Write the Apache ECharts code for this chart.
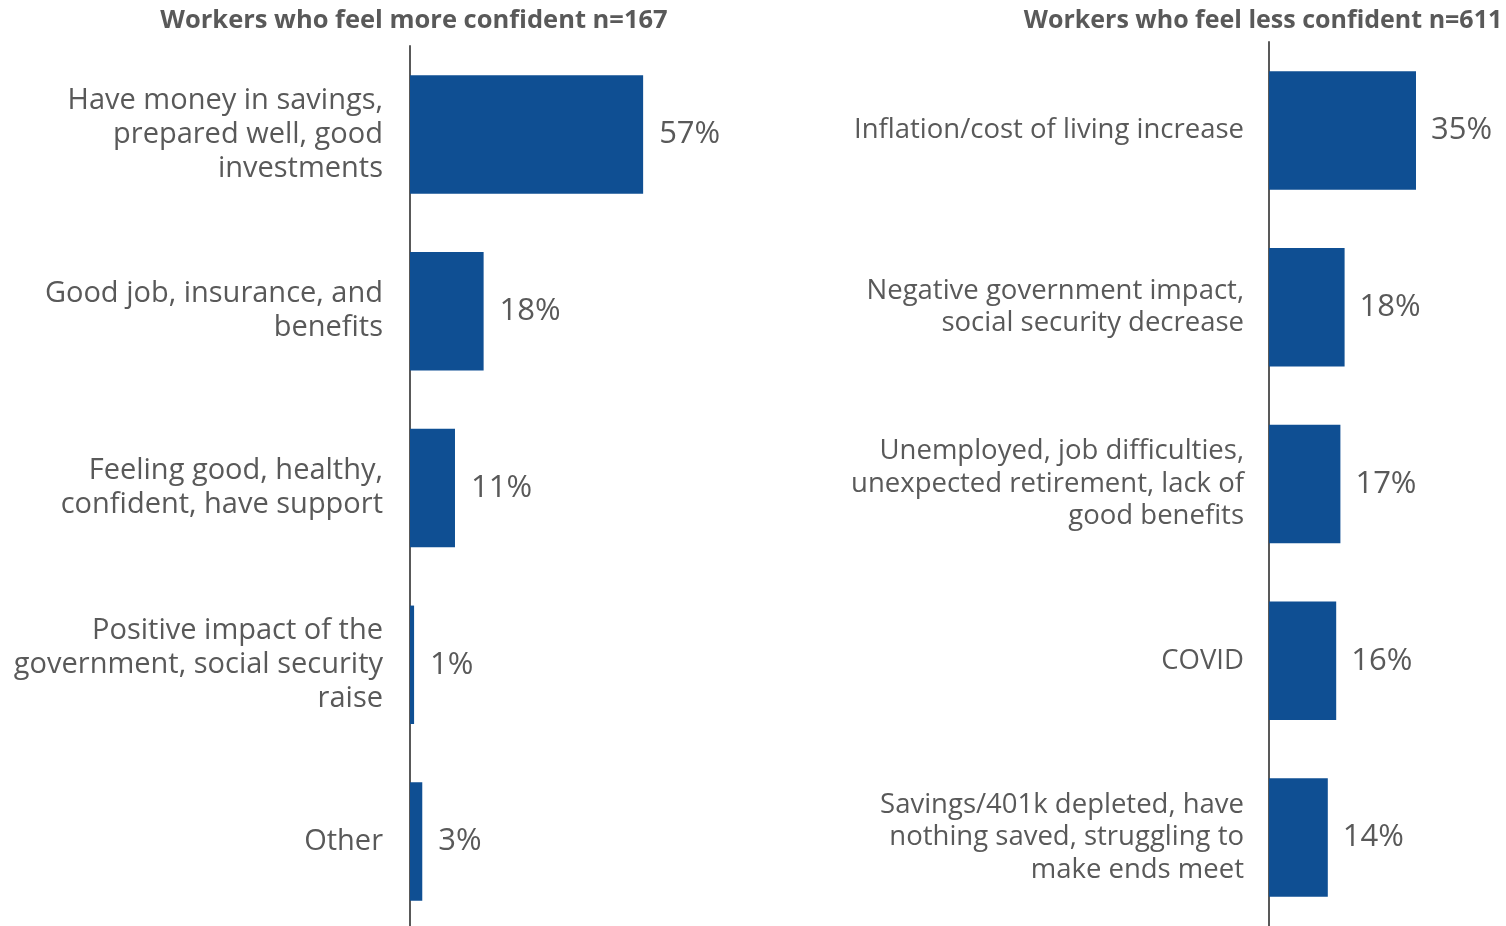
<!DOCTYPE html>
<html>
<head>
<meta charset="utf-8">
<script src="https://cdn.jsdelivr.net/npm/echarts@6/dist/echarts.min.js"></script>
<style>
  html, body { margin: 0; padding: 0; background: #fff; overflow: hidden; }
  #chart { width: 1506px; height: 932px; }
</style>
</head>
<body>
<div id="chart"></div>
<script>
// Reasons workers give for feeling more / less confident about retirement
const moreTitle = 'Workers who feel more confident n=167';
const lessTitle = 'Workers who feel less confident n=611';

const moreCategories = [
  'Have money in savings,\nprepared well, good\ninvestments',
  'Good job, insurance, and\nbenefits',
  'Feeling good, healthy,\nconfident, have support',
  'Positive impact of the\ngovernment, social security\nraise',
  'Other'
];
const moreValues = [57, 18, 11, 1, 3];

const lessCategories = [
  'Inflation/cost of living increase',
  'Negative government impact,\nsocial security decrease',
  'Unemployed, job difficulties,\nunexpected retirement, lack of\ngood benefits',
  'COVID',
  'Savings/401k depleted, have\nnothing saved, struggling to\nmake ends meet'
];
const lessValues = [35, 18, 17, 16, 14];

const FONT = '"Open Sans", "Noto Sans", sans-serif';
const TEXT = '#595959';
const BAR = '#0F4F93';

const chart = echarts.init(document.getElementById('chart'), null, { renderer: 'canvas' });

function yAxis(gridIndex, cats, size, lh, margin) {
  return {
    type: 'category', gridIndex, data: cats, inverse: true,
    axisLine: { show: true, lineStyle: { color: TEXT, width: 2 } },
    axisTick: { show: false },
    axisLabel: { color: TEXT, fontFamily: FONT, fontSize: size, lineHeight: lh, margin, align: 'right' }
  };
}
function xAxis(gridIndex, max) {
  return { type: 'value', gridIndex, min: 0, max, show: false, splitLine: { show: false } };
}
function barSeries(idx, values, dist) {
  return {
    type: 'bar', xAxisIndex: idx, yAxisIndex: idx, data: values,
    barCategoryGap: '33%',
    itemStyle: { color: BAR },
    label: {
      show: true, position: 'right', distance: dist, formatter: '{c}%',
      color: TEXT, fontFamily: FONT, fontSize: 31
    },
    animation: false
  };
}

chart.setOption({
  animation: false,
  title: [
    { text: moreTitle, left: 409, top: 3, textAlign: 'center',
      textStyle: { color: TEXT, fontFamily: FONT, fontSize: 25.5, fontWeight: 'bold' } },
    { text: lessTitle, left: 1258, top: 3, textAlign: 'center',
      textStyle: { color: TEXT, fontFamily: FONT, fontSize: 25, fontWeight: 'bold' } }
  ],
  grid: [
    { left: 410, top: 46, width: 409, height: 884, containLabel: false },
    { left: 1269, top: 42, width: 231, height: 884, containLabel: false }
  ],
  xAxis: [xAxis(0, 100), xAxis(1, 55)],
  yAxis: [
    yAxis(0, moreCategories, 29, 34, 27),
    yAxis(1, lessCategories, 27.5, 32.5, 25)
  ],
  series: [barSeries(0, moreValues, 16), barSeries(1, lessValues, 15)]
});
</script>
</body>
</html>
